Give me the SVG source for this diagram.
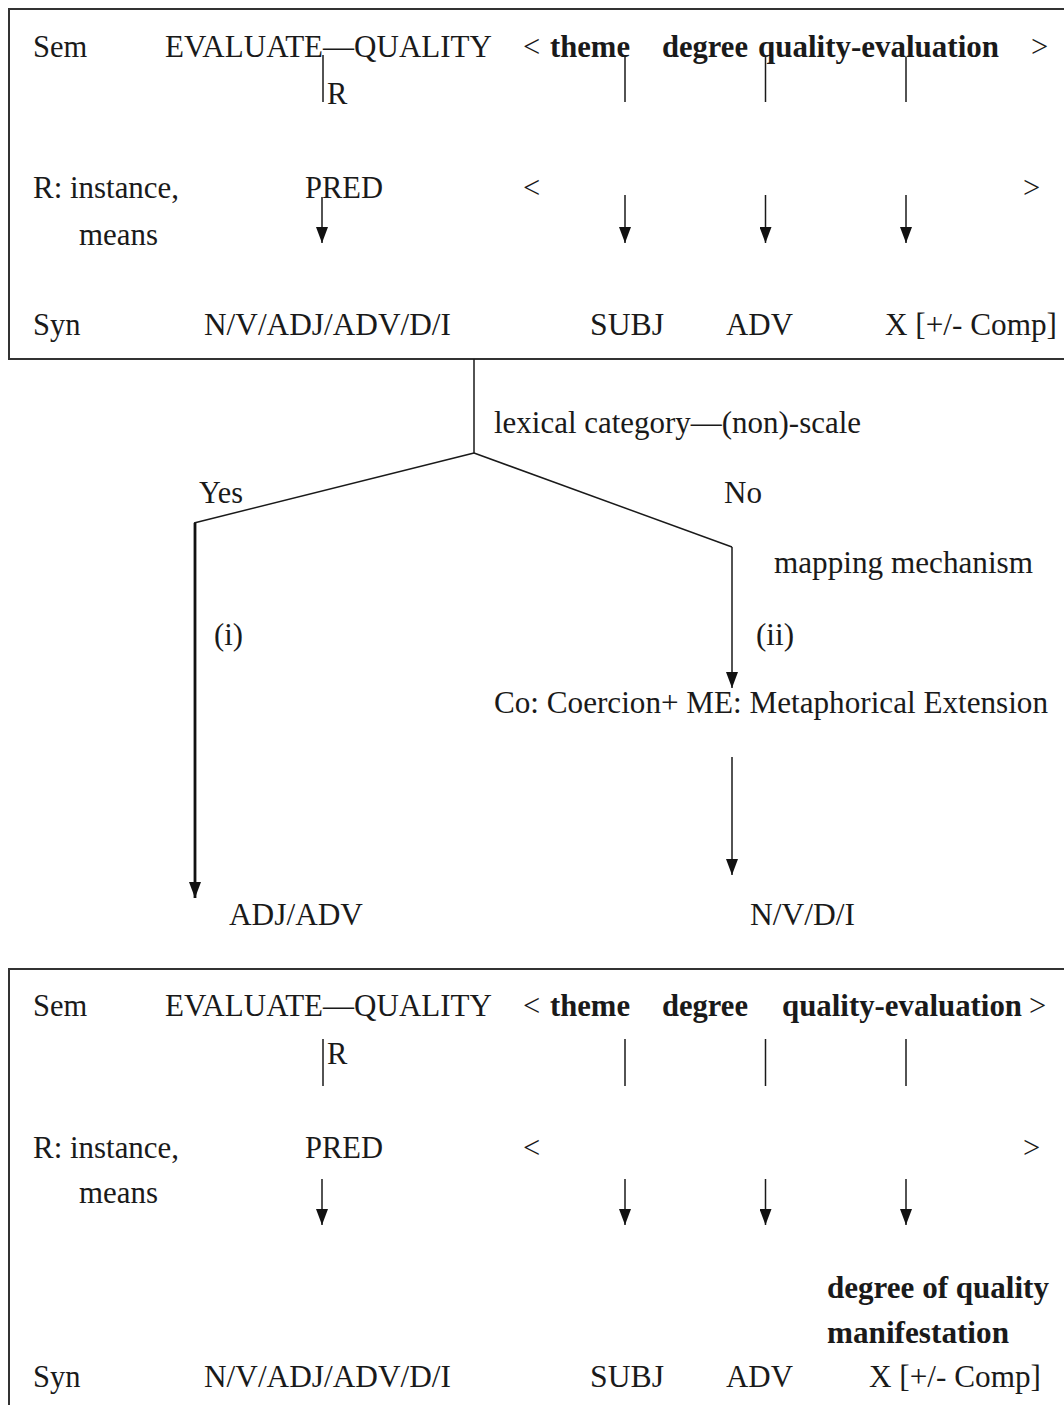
<svg xmlns="http://www.w3.org/2000/svg" width="1064" height="1405" viewBox="0 0 1064 1405">
<style>
text{font-family:"Liberation Serif","Times New Roman",serif;font-size:30.5px;fill:#1a1a1a}
.b{font-weight:bold}
.frame{fill:none;stroke:#333;stroke-width:2}
.ln{stroke:#1a1a1a;stroke-width:1.5;fill:none}
.ar{stroke:#1a1a1a;stroke-width:1.5;fill:none;marker-end:url(#ah)}
.arb{stroke:#111;stroke-width:2.8;fill:none;marker-end:url(#ah)}
</style>
<defs>
<marker id="ah" markerUnits="userSpaceOnUse" viewBox="0 0 16 12" refX="16" refY="6" markerWidth="16" markerHeight="12" orient="auto">
<path d="M0,0 L16,6 L0,12 z" fill="#111"/>
</marker>
</defs>
<rect width="1064" height="1405" fill="#fff"/>

<g id="top-box">
<rect class="frame" x="9" y="9" width="1080" height="350"/>
<g id="top-sem">
<text x="33" y="57">Sem</text>
<text x="165" y="57" textLength="327" lengthAdjust="spacingAndGlyphs">EVALUATE—QUALITY</text>
<text x="327" y="104">R</text>
<text x="523" y="57">&lt;</text>
<text class="b" x="550" y="57" textLength="80" lengthAdjust="spacingAndGlyphs">theme</text>
<text class="b" x="662" y="57" textLength="86" lengthAdjust="spacingAndGlyphs">degree</text>
<text class="b" x="758" y="57" textLength="241" lengthAdjust="spacingAndGlyphs">quality-evaluation</text>
<text x="1031" y="57">&gt;</text>
</g>
<g id="top-r">
<text x="33" y="198" textLength="146" lengthAdjust="spacingAndGlyphs">R: instance,</text>
<text x="79" y="245" textLength="79" lengthAdjust="spacingAndGlyphs">means</text>
<text x="305" y="198" textLength="78" lengthAdjust="spacingAndGlyphs">PRED</text>
<text x="523" y="198">&lt;</text>
<text x="1023" y="198">&gt;</text>
</g>
<g id="top-syn">
<text x="33" y="335">Syn</text>
<text x="204" y="335" textLength="247" lengthAdjust="spacingAndGlyphs">N/V/ADJ/ADV/D/I</text>
<text x="590" y="335" textLength="74" lengthAdjust="spacingAndGlyphs">SUBJ</text>
<text x="726" y="335" textLength="67" lengthAdjust="spacingAndGlyphs">ADV</text>
<text x="885" y="335" textLength="172" lengthAdjust="spacingAndGlyphs">X [+/- Comp]</text>
</g>
</g>

<g id="tree-labels">
<text x="494" y="433" textLength="367" lengthAdjust="spacingAndGlyphs">lexical category—(non)-scale</text>
<text x="199" y="503" textLength="44" lengthAdjust="spacingAndGlyphs">Yes</text>
<text x="724" y="503" textLength="38" lengthAdjust="spacingAndGlyphs">No</text>
<text x="774" y="573" textLength="259" lengthAdjust="spacingAndGlyphs">mapping mechanism</text>
<text x="214" y="645" textLength="29" lengthAdjust="spacingAndGlyphs">(i)</text>
<text x="756" y="645" textLength="38" lengthAdjust="spacingAndGlyphs">(ii)</text>
<text x="494" y="713" textLength="554" lengthAdjust="spacingAndGlyphs">Co: Coercion+ ME: Metaphorical Extension</text>
<text x="229" y="925" textLength="134" lengthAdjust="spacingAndGlyphs">ADJ/ADV</text>
<text x="750" y="925" textLength="105" lengthAdjust="spacingAndGlyphs">N/V/D/I</text>
</g>

<g id="bottom-box">
<rect class="frame" x="9" y="969" width="1080" height="460"/>
<g id="bottom-sem">
<text x="33" y="1016">Sem</text>
<text x="165" y="1016" textLength="327" lengthAdjust="spacingAndGlyphs">EVALUATE—QUALITY</text>
<text x="327" y="1064">R</text>
<text x="523" y="1016">&lt;</text>
<text class="b" x="550" y="1016" textLength="80" lengthAdjust="spacingAndGlyphs">theme</text>
<text class="b" x="662" y="1016" textLength="86" lengthAdjust="spacingAndGlyphs">degree</text>
<text class="b" x="782" y="1016" textLength="240" lengthAdjust="spacingAndGlyphs">quality-evaluation</text>
<text x="1029" y="1016">&gt;</text>
</g>
<g id="bottom-r">
<text x="33" y="1158" textLength="146" lengthAdjust="spacingAndGlyphs">R: instance,</text>
<text x="79" y="1203" textLength="79" lengthAdjust="spacingAndGlyphs">means</text>
<text x="305" y="1158" textLength="78" lengthAdjust="spacingAndGlyphs">PRED</text>
<text x="523" y="1158">&lt;</text>
<text x="1023" y="1158">&gt;</text>
</g>
<g id="bottom-manifestation">
<text class="b" x="827" y="1298" textLength="222" lengthAdjust="spacingAndGlyphs">degree of quality</text>
<text class="b" x="827" y="1343" textLength="182" lengthAdjust="spacingAndGlyphs">manifestation</text>
</g>
<g id="bottom-syn">
<text x="33" y="1387">Syn</text>
<text x="204" y="1387" textLength="247" lengthAdjust="spacingAndGlyphs">N/V/ADJ/ADV/D/I</text>
<text x="590" y="1387" textLength="74" lengthAdjust="spacingAndGlyphs">SUBJ</text>
<text x="726" y="1387" textLength="67" lengthAdjust="spacingAndGlyphs">ADV</text>
<text x="869" y="1387" textLength="172" lengthAdjust="spacingAndGlyphs">X [+/- Comp]</text>
</g>
</g>

<g id="connectors">
<!-- top box -->
<line class="ln" x1="323" y1="55" x2="323" y2="102"/>
<line class="ln" x1="625" y1="57" x2="625" y2="102"/>
<line class="ln" x1="765.5" y1="57" x2="765.5" y2="102"/>
<line class="ln" x1="906" y1="57" x2="906" y2="102"/>
<line class="ar" x1="322" y1="197" x2="322" y2="243"/>
<line class="ar" x1="625" y1="195" x2="625" y2="243"/>
<line class="ar" x1="765.5" y1="195" x2="765.5" y2="243"/>
<line class="ar" x1="906" y1="195" x2="906" y2="243"/>
<!-- tree -->
<polyline class="ln" points="474,359 474,453"/>
<polyline class="ln" points="474,453 194,523"/>
<line class="arb" x1="195" y1="523" x2="195" y2="898"/>
<polyline class="ln" points="474,453 732,547"/>
<line class="ar" x1="732" y1="547" x2="732" y2="688"/>
<line class="ar" x1="732" y1="757" x2="732" y2="875"/>
<!-- bottom box -->
<line class="ln" x1="323" y1="1039" x2="323" y2="1086"/>
<line class="ln" x1="625" y1="1039" x2="625" y2="1086"/>
<line class="ln" x1="765.5" y1="1039" x2="765.5" y2="1086"/>
<line class="ln" x1="906" y1="1039" x2="906" y2="1086"/>
<line class="ar" x1="322" y1="1179" x2="322" y2="1225"/>
<line class="ar" x1="625" y1="1179" x2="625" y2="1225"/>
<line class="ar" x1="765.5" y1="1179" x2="765.5" y2="1225"/>
<line class="ar" x1="906" y1="1179" x2="906" y2="1225"/>
</g>
</svg>
